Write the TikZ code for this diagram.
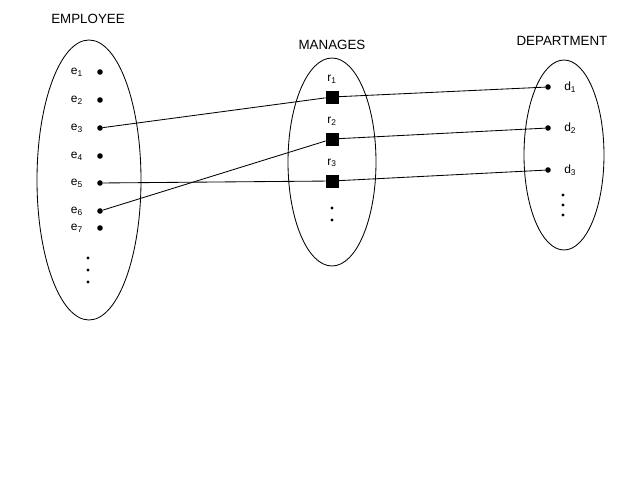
\documentclass[tikz,border=0pt]{standalone}
\usepackage{fontspec}
\setmainfont{Liberation Sans}
\begin{document}
\begin{tikzpicture}[x=0.025cm,y=-0.025cm,semithick,
    pt/.style={circle,fill=black,inner sep=0pt,minimum size=0.14cm},
    tiny/.style={circle,fill=black,inner sep=0pt,minimum size=0.08cm},
    rel/.style={draw,fill=black,inner sep=0pt,minimum size=0.3cm},
    lbl/.style={font=\fontsize{8.5}{9}\selectfont},
    title/.style={font=\fontsize{9.5}{11}\selectfont}]
  \useasboundingbox (0,0) rectangle (640,480);

  %% the three sets
  \draw (89,180) ellipse [x radius=52, y radius=140];
  \draw (332,162) ellipse [x radius=44, y radius=104];
  \draw (564,155) ellipse [x radius=40, y radius=95];
  \node [title] (emp) at (88,19) {EMPLOYEE};
  \node [title] (man) at (332,45) {MANAGES};
  \node [title] (dep) at (562,41) {DEPARTMENT};

  %% employees
  \foreach \i/\y in {1/72, 2/100, 3/128, 4/156, 5/183, 6/211, 7/228}
    \node [pt, label={[lbl, label distance=0.22cm]left:e\textsubscript{\i}}] (e\i) at (100,\y) {};
  \node [tiny] (edot1) at (88,258) {};
  \node [tiny] (edot2) at (88,270) {};
  \node [tiny] (edot3) at (88,282) {};

  %% relationship instances
  \foreach \i/\y in {1/97, 2/139, 3/181}
    \node [rel, label={[lbl, label distance=0.06cm]above:r\textsubscript{\i}}] (r\i) at (332,\y) {};
  \node [tiny] (rdot1) at (332,208) {};
  \node [tiny] (rdot2) at (332,220) {};

  %% departments
  \foreach \i/\y in {1/87, 2/128, 3/170}
    \node [pt, label={[lbl, label distance=0.2cm]right:d\textsubscript{\i}}] (d\i) at (548,\y) {};
  \node [tiny] (ddot1) at (563,195) {};
  \node [tiny] (ddot2) at (563,205) {};
  \node [tiny] (ddot3) at (563,215) {};

  %% links
  \draw (e3) -- (r1) -- (d1);
  \draw (e6) -- (r2) -- (d2);
  \draw (e5) -- (r3) -- (d3);
\end{tikzpicture}
\end{document}
